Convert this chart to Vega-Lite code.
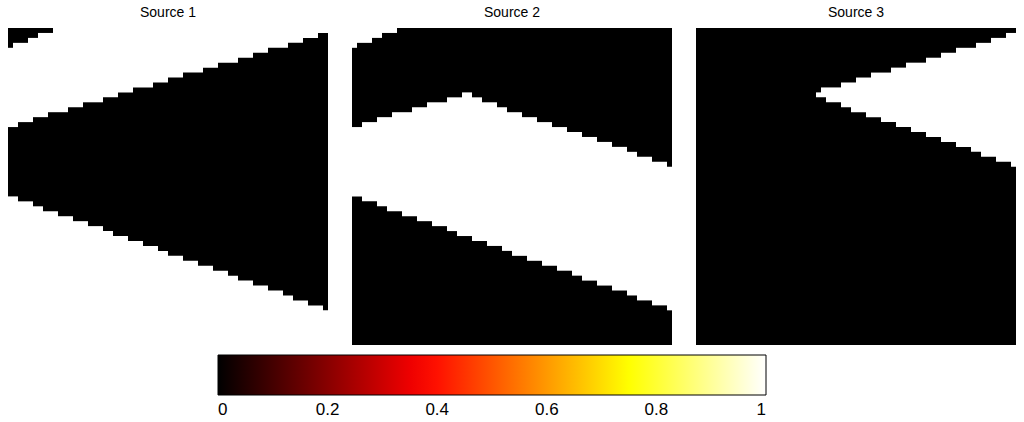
{
"$schema": "https://vega.github.io/schema/vega-lite/v6.json",
"padding": {"left": 8, "top": 6, "right": 0, "bottom": 0},
"background": "white",
"config": {"view": {"stroke": null}, "font": "Liberation Sans"},
"data": {"values": [
{"p":"Source 1","c":0,"t":0,"b":4,"v":0},{"p":"Source 1","c":1,"t":0,"b":3,"v":0},{"p":"Source 1","c":2,"t":0,"b":3,"v":0},{"p":"Source 1","c":3,"t":0,"b":3,"v":0},{"p":"Source 1","c":4,"t":0,"b":2,"v":0},{"p":"Source 1","c":5,"t":0,"b":2,"v":0},{"p":"Source 1","c":6,"t":0,"b":1,"v":0},{"p":"Source 1","c":7,"t":0,"b":1,"v":0},{"p":"Source 1","c":8,"t":0,"b":1,"v":0},
{"p":"Source 1","c":0,"t":20,"b":34,"v":0},{"p":"Source 1","c":1,"t":20,"b":34,"v":0},{"p":"Source 1","c":2,"t":19,"b":35,"v":0},{"p":"Source 1","c":3,"t":19,"b":35,"v":0},{"p":"Source 1","c":4,"t":19,"b":35,"v":0},{"p":"Source 1","c":5,"t":18,"b":36,"v":0},{"p":"Source 1","c":6,"t":18,"b":36,"v":0},{"p":"Source 1","c":7,"t":18,"b":37,"v":0},{"p":"Source 1","c":8,"t":17,"b":37,"v":0},{"p":"Source 1","c":9,"t":17,"b":37,"v":0},
{"p":"Source 1","c":10,"t":17,"b":38,"v":0},{"p":"Source 1","c":11,"t":17,"b":38,"v":0},{"p":"Source 1","c":12,"t":16,"b":38,"v":0},{"p":"Source 1","c":13,"t":16,"b":39,"v":0},{"p":"Source 1","c":14,"t":16,"b":39,"v":0},{"p":"Source 1","c":15,"t":15,"b":39,"v":0},{"p":"Source 1","c":16,"t":15,"b":40,"v":0},{"p":"Source 1","c":17,"t":15,"b":40,"v":0},{"p":"Source 1","c":18,"t":15,"b":40,"v":0},{"p":"Source 1","c":19,"t":14,"b":41,"v":0},
{"p":"Source 1","c":20,"t":14,"b":41,"v":0},{"p":"Source 1","c":21,"t":14,"b":42,"v":0},{"p":"Source 1","c":22,"t":13,"b":42,"v":0},{"p":"Source 1","c":23,"t":13,"b":42,"v":0},{"p":"Source 1","c":24,"t":13,"b":43,"v":0},{"p":"Source 1","c":25,"t":12,"b":43,"v":0},{"p":"Source 1","c":26,"t":12,"b":43,"v":0},{"p":"Source 1","c":27,"t":12,"b":44,"v":0},{"p":"Source 1","c":28,"t":12,"b":44,"v":0},{"p":"Source 1","c":29,"t":11,"b":44,"v":0},
{"p":"Source 1","c":30,"t":11,"b":45,"v":0},{"p":"Source 1","c":31,"t":11,"b":45,"v":0},{"p":"Source 1","c":32,"t":10,"b":46,"v":0},{"p":"Source 1","c":33,"t":10,"b":46,"v":0},{"p":"Source 1","c":34,"t":10,"b":46,"v":0},{"p":"Source 1","c":35,"t":9,"b":47,"v":0},{"p":"Source 1","c":36,"t":9,"b":47,"v":0},{"p":"Source 1","c":37,"t":9,"b":47,"v":0},{"p":"Source 1","c":38,"t":9,"b":48,"v":0},{"p":"Source 1","c":39,"t":8,"b":48,"v":0},
{"p":"Source 1","c":40,"t":8,"b":48,"v":0},{"p":"Source 1","c":41,"t":8,"b":49,"v":0},{"p":"Source 1","c":42,"t":7,"b":49,"v":0},{"p":"Source 1","c":43,"t":7,"b":49,"v":0},{"p":"Source 1","c":44,"t":7,"b":50,"v":0},{"p":"Source 1","c":45,"t":7,"b":50,"v":0},{"p":"Source 1","c":46,"t":6,"b":51,"v":0},{"p":"Source 1","c":47,"t":6,"b":51,"v":0},{"p":"Source 1","c":48,"t":6,"b":51,"v":0},{"p":"Source 1","c":49,"t":5,"b":52,"v":0},
{"p":"Source 1","c":50,"t":5,"b":52,"v":0},{"p":"Source 1","c":51,"t":5,"b":52,"v":0},{"p":"Source 1","c":52,"t":4,"b":53,"v":0},{"p":"Source 1","c":53,"t":4,"b":53,"v":0},{"p":"Source 1","c":54,"t":4,"b":53,"v":0},{"p":"Source 1","c":55,"t":4,"b":54,"v":0},{"p":"Source 1","c":56,"t":3,"b":54,"v":0},{"p":"Source 1","c":57,"t":3,"b":55,"v":0},{"p":"Source 1","c":58,"t":3,"b":55,"v":0},{"p":"Source 1","c":59,"t":2,"b":55,"v":0},
{"p":"Source 1","c":60,"t":2,"b":56,"v":0},{"p":"Source 1","c":61,"t":2,"b":56,"v":0},{"p":"Source 1","c":62,"t":1,"b":56,"v":0},{"p":"Source 1","c":63,"t":1,"b":57,"v":0},
{"p":"Source 2","c":0,"t":4,"b":20,"v":0},{"p":"Source 2","c":1,"t":3,"b":20,"v":0},{"p":"Source 2","c":2,"t":3,"b":19,"v":0},{"p":"Source 2","c":3,"t":3,"b":19,"v":0},{"p":"Source 2","c":4,"t":2,"b":19,"v":0},{"p":"Source 2","c":5,"t":2,"b":18,"v":0},{"p":"Source 2","c":6,"t":1,"b":18,"v":0},{"p":"Source 2","c":7,"t":1,"b":18,"v":0},{"p":"Source 2","c":8,"t":1,"b":17,"v":0},{"p":"Source 2","c":9,"t":0,"b":17,"v":0},
{"p":"Source 2","c":10,"t":0,"b":17,"v":0},{"p":"Source 2","c":11,"t":0,"b":17,"v":0},{"p":"Source 2","c":12,"t":0,"b":16,"v":0},{"p":"Source 2","c":13,"t":0,"b":16,"v":0},{"p":"Source 2","c":14,"t":0,"b":16,"v":0},{"p":"Source 2","c":15,"t":0,"b":15,"v":0},{"p":"Source 2","c":16,"t":0,"b":15,"v":0},{"p":"Source 2","c":17,"t":0,"b":15,"v":0},{"p":"Source 2","c":18,"t":0,"b":15,"v":0},{"p":"Source 2","c":19,"t":0,"b":14,"v":0},
{"p":"Source 2","c":20,"t":0,"b":14,"v":0},{"p":"Source 2","c":21,"t":0,"b":14,"v":0},{"p":"Source 2","c":22,"t":0,"b":13,"v":0},{"p":"Source 2","c":23,"t":0,"b":13,"v":0},{"p":"Source 2","c":24,"t":0,"b":14,"v":0},{"p":"Source 2","c":25,"t":0,"b":14,"v":0},{"p":"Source 2","c":26,"t":0,"b":15,"v":0},{"p":"Source 2","c":27,"t":0,"b":15,"v":0},{"p":"Source 2","c":28,"t":0,"b":15,"v":0},{"p":"Source 2","c":29,"t":0,"b":16,"v":0},
{"p":"Source 2","c":30,"t":0,"b":16,"v":0},{"p":"Source 2","c":31,"t":0,"b":17,"v":0},{"p":"Source 2","c":32,"t":0,"b":17,"v":0},{"p":"Source 2","c":33,"t":0,"b":17,"v":0},{"p":"Source 2","c":34,"t":0,"b":18,"v":0},{"p":"Source 2","c":35,"t":0,"b":18,"v":0},{"p":"Source 2","c":36,"t":0,"b":18,"v":0},{"p":"Source 2","c":37,"t":0,"b":19,"v":0},{"p":"Source 2","c":38,"t":0,"b":19,"v":0},{"p":"Source 2","c":39,"t":0,"b":19,"v":0},
{"p":"Source 2","c":40,"t":0,"b":20,"v":0},{"p":"Source 2","c":41,"t":0,"b":20,"v":0},{"p":"Source 2","c":42,"t":0,"b":20,"v":0},{"p":"Source 2","c":43,"t":0,"b":21,"v":0},{"p":"Source 2","c":44,"t":0,"b":21,"v":0},{"p":"Source 2","c":45,"t":0,"b":21,"v":0},{"p":"Source 2","c":46,"t":0,"b":22,"v":0},{"p":"Source 2","c":47,"t":0,"b":22,"v":0},{"p":"Source 2","c":48,"t":0,"b":22,"v":0},{"p":"Source 2","c":49,"t":0,"b":23,"v":0},
{"p":"Source 2","c":50,"t":0,"b":23,"v":0},{"p":"Source 2","c":51,"t":0,"b":23,"v":0},{"p":"Source 2","c":52,"t":0,"b":24,"v":0},{"p":"Source 2","c":53,"t":0,"b":24,"v":0},{"p":"Source 2","c":54,"t":0,"b":24,"v":0},{"p":"Source 2","c":55,"t":0,"b":25,"v":0},{"p":"Source 2","c":56,"t":0,"b":25,"v":0},{"p":"Source 2","c":57,"t":0,"b":26,"v":0},{"p":"Source 2","c":58,"t":0,"b":26,"v":0},{"p":"Source 2","c":59,"t":0,"b":26,"v":0},
{"p":"Source 2","c":60,"t":0,"b":27,"v":0},{"p":"Source 2","c":61,"t":0,"b":27,"v":0},{"p":"Source 2","c":62,"t":0,"b":27,"v":0},{"p":"Source 2","c":63,"t":0,"b":28,"v":0},
{"p":"Source 2","c":0,"t":34,"b":64,"v":0},{"p":"Source 2","c":1,"t":34,"b":64,"v":0},{"p":"Source 2","c":2,"t":35,"b":64,"v":0},{"p":"Source 2","c":3,"t":35,"b":64,"v":0},{"p":"Source 2","c":4,"t":35,"b":64,"v":0},{"p":"Source 2","c":5,"t":36,"b":64,"v":0},{"p":"Source 2","c":6,"t":36,"b":64,"v":0},{"p":"Source 2","c":7,"t":37,"b":64,"v":0},{"p":"Source 2","c":8,"t":37,"b":64,"v":0},{"p":"Source 2","c":9,"t":37,"b":64,"v":0},
{"p":"Source 2","c":10,"t":38,"b":64,"v":0},{"p":"Source 2","c":11,"t":38,"b":64,"v":0},{"p":"Source 2","c":12,"t":38,"b":64,"v":0},{"p":"Source 2","c":13,"t":39,"b":64,"v":0},{"p":"Source 2","c":14,"t":39,"b":64,"v":0},{"p":"Source 2","c":15,"t":39,"b":64,"v":0},{"p":"Source 2","c":16,"t":40,"b":64,"v":0},{"p":"Source 2","c":17,"t":40,"b":64,"v":0},{"p":"Source 2","c":18,"t":40,"b":64,"v":0},{"p":"Source 2","c":19,"t":41,"b":64,"v":0},
{"p":"Source 2","c":20,"t":41,"b":64,"v":0},{"p":"Source 2","c":21,"t":42,"b":64,"v":0},{"p":"Source 2","c":22,"t":42,"b":64,"v":0},{"p":"Source 2","c":23,"t":42,"b":64,"v":0},{"p":"Source 2","c":24,"t":43,"b":64,"v":0},{"p":"Source 2","c":25,"t":43,"b":64,"v":0},{"p":"Source 2","c":26,"t":43,"b":64,"v":0},{"p":"Source 2","c":27,"t":44,"b":64,"v":0},{"p":"Source 2","c":28,"t":44,"b":64,"v":0},{"p":"Source 2","c":29,"t":44,"b":64,"v":0},
{"p":"Source 2","c":30,"t":45,"b":64,"v":0},{"p":"Source 2","c":31,"t":45,"b":64,"v":0},{"p":"Source 2","c":32,"t":46,"b":64,"v":0},{"p":"Source 2","c":33,"t":46,"b":64,"v":0},{"p":"Source 2","c":34,"t":46,"b":64,"v":0},{"p":"Source 2","c":35,"t":47,"b":64,"v":0},{"p":"Source 2","c":36,"t":47,"b":64,"v":0},{"p":"Source 2","c":37,"t":47,"b":64,"v":0},{"p":"Source 2","c":38,"t":48,"b":64,"v":0},{"p":"Source 2","c":39,"t":48,"b":64,"v":0},
{"p":"Source 2","c":40,"t":48,"b":64,"v":0},{"p":"Source 2","c":41,"t":49,"b":64,"v":0},{"p":"Source 2","c":42,"t":49,"b":64,"v":0},{"p":"Source 2","c":43,"t":49,"b":64,"v":0},{"p":"Source 2","c":44,"t":50,"b":64,"v":0},{"p":"Source 2","c":45,"t":50,"b":64,"v":0},{"p":"Source 2","c":46,"t":51,"b":64,"v":0},{"p":"Source 2","c":47,"t":51,"b":64,"v":0},{"p":"Source 2","c":48,"t":51,"b":64,"v":0},{"p":"Source 2","c":49,"t":52,"b":64,"v":0},
{"p":"Source 2","c":50,"t":52,"b":64,"v":0},{"p":"Source 2","c":51,"t":52,"b":64,"v":0},{"p":"Source 2","c":52,"t":53,"b":64,"v":0},{"p":"Source 2","c":53,"t":53,"b":64,"v":0},{"p":"Source 2","c":54,"t":53,"b":64,"v":0},{"p":"Source 2","c":55,"t":54,"b":64,"v":0},{"p":"Source 2","c":56,"t":54,"b":64,"v":0},{"p":"Source 2","c":57,"t":55,"b":64,"v":0},{"p":"Source 2","c":58,"t":55,"b":64,"v":0},{"p":"Source 2","c":59,"t":55,"b":64,"v":0},
{"p":"Source 2","c":60,"t":56,"b":64,"v":0},{"p":"Source 2","c":61,"t":56,"b":64,"v":0},{"p":"Source 2","c":62,"t":56,"b":64,"v":0},{"p":"Source 2","c":63,"t":57,"b":64,"v":0},
{"p":"Source 3","c":0,"t":0,"b":64,"v":0},{"p":"Source 3","c":1,"t":0,"b":64,"v":0},{"p":"Source 3","c":2,"t":0,"b":64,"v":0},{"p":"Source 3","c":3,"t":0,"b":64,"v":0},{"p":"Source 3","c":4,"t":0,"b":64,"v":0},{"p":"Source 3","c":5,"t":0,"b":64,"v":0},{"p":"Source 3","c":6,"t":0,"b":64,"v":0},{"p":"Source 3","c":7,"t":0,"b":64,"v":0},{"p":"Source 3","c":8,"t":0,"b":64,"v":0},{"p":"Source 3","c":9,"t":0,"b":64,"v":0},
{"p":"Source 3","c":10,"t":0,"b":64,"v":0},{"p":"Source 3","c":11,"t":0,"b":64,"v":0},{"p":"Source 3","c":12,"t":0,"b":64,"v":0},{"p":"Source 3","c":13,"t":0,"b":64,"v":0},{"p":"Source 3","c":14,"t":0,"b":64,"v":0},{"p":"Source 3","c":15,"t":0,"b":64,"v":0},{"p":"Source 3","c":16,"t":0,"b":64,"v":0},{"p":"Source 3","c":17,"t":0,"b":64,"v":0},{"p":"Source 3","c":18,"t":0,"b":64,"v":0},{"p":"Source 3","c":19,"t":0,"b":64,"v":0},
{"p":"Source 3","c":20,"t":0,"b":64,"v":0},{"p":"Source 3","c":21,"t":0,"b":64,"v":0},{"p":"Source 3","c":22,"t":0,"b":64,"v":0},{"p":"Source 3","c":23,"t":0,"b":64,"v":0},
{"p":"Source 3","c":24,"t":0,"b":13,"v":0},{"p":"Source 3","c":25,"t":0,"b":12,"v":0},{"p":"Source 3","c":26,"t":0,"b":12,"v":0},{"p":"Source 3","c":27,"t":0,"b":12,"v":0},{"p":"Source 3","c":28,"t":0,"b":12,"v":0},{"p":"Source 3","c":29,"t":0,"b":11,"v":0},{"p":"Source 3","c":30,"t":0,"b":11,"v":0},{"p":"Source 3","c":31,"t":0,"b":11,"v":0},{"p":"Source 3","c":32,"t":0,"b":10,"v":0},{"p":"Source 3","c":33,"t":0,"b":10,"v":0},
{"p":"Source 3","c":34,"t":0,"b":10,"v":0},{"p":"Source 3","c":35,"t":0,"b":9,"v":0},{"p":"Source 3","c":36,"t":0,"b":9,"v":0},{"p":"Source 3","c":37,"t":0,"b":9,"v":0},{"p":"Source 3","c":38,"t":0,"b":9,"v":0},{"p":"Source 3","c":39,"t":0,"b":8,"v":0},{"p":"Source 3","c":40,"t":0,"b":8,"v":0},{"p":"Source 3","c":41,"t":0,"b":8,"v":0},{"p":"Source 3","c":42,"t":0,"b":7,"v":0},{"p":"Source 3","c":43,"t":0,"b":7,"v":0},
{"p":"Source 3","c":44,"t":0,"b":7,"v":0},{"p":"Source 3","c":45,"t":0,"b":7,"v":0},{"p":"Source 3","c":46,"t":0,"b":6,"v":0},{"p":"Source 3","c":47,"t":0,"b":6,"v":0},{"p":"Source 3","c":48,"t":0,"b":6,"v":0},{"p":"Source 3","c":49,"t":0,"b":5,"v":0},{"p":"Source 3","c":50,"t":0,"b":5,"v":0},{"p":"Source 3","c":51,"t":0,"b":5,"v":0},{"p":"Source 3","c":52,"t":0,"b":4,"v":0},{"p":"Source 3","c":53,"t":0,"b":4,"v":0},
{"p":"Source 3","c":54,"t":0,"b":4,"v":0},{"p":"Source 3","c":55,"t":0,"b":4,"v":0},{"p":"Source 3","c":56,"t":0,"b":3,"v":0},{"p":"Source 3","c":57,"t":0,"b":3,"v":0},{"p":"Source 3","c":58,"t":0,"b":3,"v":0},{"p":"Source 3","c":59,"t":0,"b":2,"v":0},{"p":"Source 3","c":60,"t":0,"b":2,"v":0},{"p":"Source 3","c":61,"t":0,"b":2,"v":0},{"p":"Source 3","c":62,"t":0,"b":1,"v":0},{"p":"Source 3","c":63,"t":0,"b":1,"v":0},
{"p":"Source 3","c":24,"t":14,"b":64,"v":0},{"p":"Source 3","c":25,"t":14,"b":64,"v":0},{"p":"Source 3","c":26,"t":15,"b":64,"v":0},{"p":"Source 3","c":27,"t":15,"b":64,"v":0},{"p":"Source 3","c":28,"t":15,"b":64,"v":0},{"p":"Source 3","c":29,"t":16,"b":64,"v":0},{"p":"Source 3","c":30,"t":16,"b":64,"v":0},{"p":"Source 3","c":31,"t":17,"b":64,"v":0},{"p":"Source 3","c":32,"t":17,"b":64,"v":0},{"p":"Source 3","c":33,"t":17,"b":64,"v":0},
{"p":"Source 3","c":34,"t":18,"b":64,"v":0},{"p":"Source 3","c":35,"t":18,"b":64,"v":0},{"p":"Source 3","c":36,"t":18,"b":64,"v":0},{"p":"Source 3","c":37,"t":19,"b":64,"v":0},{"p":"Source 3","c":38,"t":19,"b":64,"v":0},{"p":"Source 3","c":39,"t":19,"b":64,"v":0},{"p":"Source 3","c":40,"t":20,"b":64,"v":0},{"p":"Source 3","c":41,"t":20,"b":64,"v":0},{"p":"Source 3","c":42,"t":20,"b":64,"v":0},{"p":"Source 3","c":43,"t":21,"b":64,"v":0},
{"p":"Source 3","c":44,"t":21,"b":64,"v":0},{"p":"Source 3","c":45,"t":21,"b":64,"v":0},{"p":"Source 3","c":46,"t":22,"b":64,"v":0},{"p":"Source 3","c":47,"t":22,"b":64,"v":0},{"p":"Source 3","c":48,"t":22,"b":64,"v":0},{"p":"Source 3","c":49,"t":23,"b":64,"v":0},{"p":"Source 3","c":50,"t":23,"b":64,"v":0},{"p":"Source 3","c":51,"t":23,"b":64,"v":0},{"p":"Source 3","c":52,"t":24,"b":64,"v":0},{"p":"Source 3","c":53,"t":24,"b":64,"v":0},
{"p":"Source 3","c":54,"t":24,"b":64,"v":0},{"p":"Source 3","c":55,"t":25,"b":64,"v":0},{"p":"Source 3","c":56,"t":25,"b":64,"v":0},{"p":"Source 3","c":57,"t":26,"b":64,"v":0},{"p":"Source 3","c":58,"t":26,"b":64,"v":0},{"p":"Source 3","c":59,"t":26,"b":64,"v":0},{"p":"Source 3","c":60,"t":27,"b":64,"v":0},{"p":"Source 3","c":61,"t":27,"b":64,"v":0},{"p":"Source 3","c":62,"t":27,"b":64,"v":0},{"p":"Source 3","c":63,"t":28,"b":64,"v":0}
]},
"facet": {"column": {"field": "p", "type": "nominal", "header": {"title": null, "labelFont": "Liberation Sans", "labelFontSize": 14, "labelColor": "black", "labelPadding": 8}}},
"spacing": 24,
"spec": {
"width": 320,
"height": 317,
"mark": {"type": "rect"},
"encoding": {
"x": {"field": "c", "type": "ordinal", "scale": {"paddingInner": 0, "paddingOuter": 0}, "axis": null},
"y": {"field": "t", "type": "quantitative", "scale": {"domain": [0, 64], "reverse": true, "nice": false, "zero": false}, "axis": null},
"y2": {"field": "b"},
"color": {"field": "v", "type": "quantitative", "scale": {"domain": [0, 0.375, 0.75, 1], "range": ["#000000", "#ff0000", "#ffff00", "#ffffff"], "interpolate": "rgb"},
"legend": {"orient": "none", "legendX": 210, "legendY": 327, "direction": "horizontal", "gradientLength": 548, "gradientThickness": 40, "title": null, "values": [0, 0.2, 0.4, 0.6, 0.8, 1], "format": "~g", "labelFont": "Liberation Sans", "labelFontSize": 17, "labelColor": "black", "labelOffset": 7, "labelAlign": "center", "labelOverlap": false, "gradientStrokeColor": "black", "gradientStrokeWidth": 1}}
}
}
}
